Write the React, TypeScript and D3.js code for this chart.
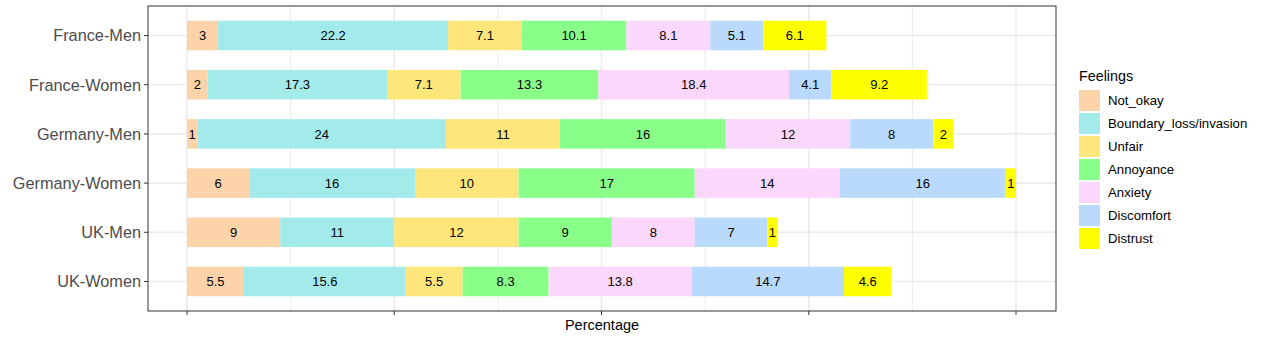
import React, { useEffect, useRef } from "react";
import * as d3 from "d3";

const groups = ["France-Men", "France-Women", "Germany-Men", "Germany-Women", "UK-Men", "UK-Women"];
const feelings = ["Not_okay", "Boundary_loss/invasion", "Unfair", "Annoyance", "Anxiety", "Discomfort", "Distrust"];
const colors = ["#FDD3AA", "#A3EBEA", "#FFE67B", "#89FF89", "#FCD7FC", "#B9DAFB", "#FFFF00"];

const franceMen = [3, 22.2, 7.1, 10.1, 8.1, 5.1, 6.1];
const franceWomen = [2, 17.3, 7.1, 13.3, 18.4, 4.1, 9.2];
const germanyMen = [1, 24, 11, 16, 12, 8, 2];
const germanyWomen = [6, 16, 10, 17, 14, 16, 1];
const ukMen = [9, 11, 12, 9, 8, 7, 1];
const ukWomen = [5.5, 15.6, 5.5, 8.3, 13.8, 14.7, 4.6];

const xTicks = [0, 20, 40, 60, 80];
const xMinor = [10, 30, 50, 70];

const App = () => {
  const ref = useRef<SVGSVGElement>(null);

  useEffect(() => {
    const svg = d3.select(ref.current);
    svg.selectAll("*").remove();

    const values = [franceMen, franceWomen, germanyMen, germanyWomen, ukMen, ukWomen];
    const rows = groups.map((g, i) => ({ group: g, vals: values[i] }));

    const panel = { left: 148, right: 1056, top: 6, bottom: 311 };
    const font = "Liberation Sans, Arial, Helvetica, sans-serif";

    // panel spans 0 -> 187 and 80 -> 1016
    const x = d3.scaleLinear().domain([0, 80]).range([187, 1016]);
    // ggplot-like discrete expansion (0.6 units each side)
    const y = d3
      .scaleBand()
      .domain(groups)
      .range([panel.top, panel.bottom])
      .paddingInner(0.4)
      .paddingOuter(0.3);
    const bw = y.bandwidth();
    const yc = (g: string) => (y(g) as number) + bw / 2;

    const g = svg.append("g");

    // grid
    g.selectAll(".minor")
      .data(xMinor)
      .join("line")
      .attr("x1", (d) => x(d))
      .attr("x2", (d) => x(d))
      .attr("y1", panel.top)
      .attr("y2", panel.bottom)
      .attr("stroke", "#EBEBEB")
      .attr("stroke-width", 1);
    g.selectAll(".major")
      .data(xTicks)
      .join("line")
      .attr("x1", (d) => x(d))
      .attr("x2", (d) => x(d))
      .attr("y1", panel.top)
      .attr("y2", panel.bottom)
      .attr("stroke", "#EBEBEB")
      .attr("stroke-width", 1.6);
    g.selectAll(".hmajor")
      .data(groups)
      .join("line")
      .attr("x1", panel.left)
      .attr("x2", panel.right)
      .attr("y1", (d) => yc(d))
      .attr("y2", (d) => yc(d))
      .attr("stroke", "#EBEBEB")
      .attr("stroke-width", 1.6);

    // bars
    rows.forEach((r) => {
      let acc = 0;
      const segs = r.vals.map((v, i) => {
        const s = { start: acc, v, i };
        acc += v;
        return s;
      });
      const row = g.append("g");
      row
        .selectAll("rect")
        .data(segs)
        .join("rect")
        .attr("x", (d) => x(d.start))
        .attr("y", y(r.group) as number)
        .attr("width", (d) => x(d.start + d.v) - x(d.start))
        .attr("height", bw)
        .attr("fill", (d) => colors[d.i]);
      row
        .selectAll("text")
        .data(segs)
        .join("text")
        .attr("x", (d) => x(d.start + d.v / 2))
        .attr("y", yc(r.group))
        .attr("dy", "0.36em")
        .attr("text-anchor", "middle")
        .attr("font-family", font)
        .attr("font-size", 13)
        .attr("fill", "black")
        .text((d) => String(d.v));
    });

    // panel border
    g.append("rect")
      .attr("x", panel.left)
      .attr("y", panel.top)
      .attr("width", panel.right - panel.left)
      .attr("height", panel.bottom - panel.top)
      .attr("fill", "none")
      .attr("stroke", "#333333")
      .attr("stroke-width", 1);

    // y axis
    groups.forEach((grp) => {
      g.append("line")
        .attr("x1", panel.left - 4)
        .attr("x2", panel.left)
        .attr("y1", yc(grp))
        .attr("y2", yc(grp))
        .attr("stroke", "#333333");
      g.append("text")
        .attr("x", panel.left - 7)
        .attr("y", yc(grp))
        .attr("dy", "0.36em")
        .attr("text-anchor", "end")
        .attr("font-family", font)
        .attr("font-size", 16.3)
        .attr("fill", "#4D4D4D")
        .text(grp);
    });

    // x axis ticks (no labels)
    g.selectAll(".xt")
      .data(xTicks)
      .join("line")
      .attr("x1", (d) => x(d))
      .attr("x2", (d) => x(d))
      .attr("y1", panel.bottom)
      .attr("y2", panel.bottom + 4)
      .attr("stroke", "#333333");

    g.append("text")
      .attr("x", (panel.left + panel.right) / 2)
      .attr("y", 330)
      .attr("text-anchor", "middle")
      .attr("font-family", font)
      .attr("font-size", 14.5)
      .attr("fill", "black")
      .text("Percentage");

    // legend
    const lg = g.append("g").attr("transform", "translate(1079,0)");
    lg.append("text")
      .attr("x", 0)
      .attr("y", 81)
      .attr("font-family", font)
      .attr("font-size", 14.3)
      .attr("fill", "black")
      .text("Feelings");
    feelings.forEach((f, i) => {
      lg.append("rect")
        .attr("x", 0)
        .attr("y", 90 + i * 23)
        .attr("width", 21)
        .attr("height", 21)
        .attr("fill", colors[i]);
      lg.append("text")
        .attr("x", 29)
        .attr("y", 90 + i * 23 + 10.5)
        .attr("dy", "0.36em")
        .attr("font-family", font)
        .attr("font-size", 13.2)
        .attr("fill", "black")
        .text(f);
    });
  }, []);

  return (
    <svg
      ref={ref}
      width={1264}
      height={340}
      style={{ position: "absolute", left: 0, top: 0, background: "white" }}
    />
  );
};

export default App;
